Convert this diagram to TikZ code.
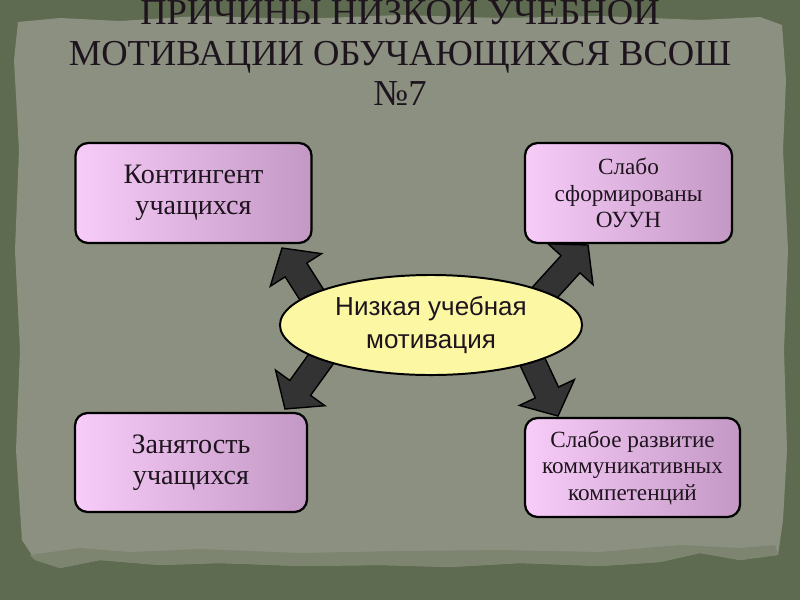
\documentclass[tikz,border=0pt]{standalone}
\usepackage{fontspec}
\setmainfont{Liberation Serif}
\newfontfamily\ellfont{Liberation Sans}
\usetikzlibrary{calc,shapes.geometric}
\definecolor{outerbg}{HTML}{5F6B50}
\definecolor{paper}{HTML}{8B9081}
\definecolor{paperedge}{HTML}{7D8571}
\definecolor{boxl}{HTML}{F8CCF8}
\definecolor{boxr}{HTML}{C498C4}
\definecolor{ellfill}{HTML}{FCF7A2}
\definecolor{arrfill}{HTML}{333333}
\definecolor{txt}{HTML}{1E141E}
\tikzset{
  causebox/.style={draw=black, line width=1.6pt, rounded corners=9pt, left color=boxl, right color=boxr, inner sep=0pt},
  boxtext/.style={text=txt, align=center, font=\fontsize{20pt}{22pt}\selectfont},
  smalltext/.style={text=txt, align=center, font=\fontsize{16.5pt}{18.8pt}\selectfont},
  titletext/.style={text=txt, anchor=base, font=\fontsize{26pt}{29pt}\selectfont},
  blockarrow/.style={draw=black, line width=1pt, fill=arrfill, line join=miter},
}
\newcommand\blockarr[2]{%
  \coordinate (#2b) at ($(#2)!0.65cm!(#1)$);
  \draw[blockarrow] ($(#1)!0.32cm!90:(#2)$) -- ($(#2b)!0.32cm!90:(#2)$) -- ($(#2b)!0.76cm!90:(#2)$)
    -- (#2) -- ($(#2b)!0.76cm!-90:(#2)$) -- ($(#2b)!0.32cm!-90:(#2)$) -- ($(#1)!0.32cm!-90:(#2)$) -- cycle;
}
\begin{document}
\begin{tikzpicture}[x=0.025cm,y=-0.025cm]
\useasboundingbox (0,0) rectangle (800,600);
\fill[outerbg] (0,0) rectangle (800,600);
\fill[paper] (18,22) -- (60,18) -- (120,21) -- (200,16) -- (300,19) -- (400,15) -- (500,18) -- (600,16) -- (700,20) -- (760,17) -- (782,25) -- (786,80) -- (783,150) -- (788,250) -- (784,350) -- (787,450) -- (783,520) -- (778,555) -- (740,560) -- (700,553) -- (660,562) -- (600,566) -- (520,563) -- (450,567) -- (380,565) -- (300,566) -- (220,563) -- (160,565) -- (100,560) -- (60,568) -- (35,560) -- (22,540) -- (16,450) -- (20,350) -- (15,250) -- (19,150) -- (14,60) -- cycle;
\fill[paperedge] (30,555) -- (80,548) -- (130,552) -- (200,549) -- (300,553) -- (400,551) -- (500,550) -- (600,552) -- (680,545) -- (740,548) -- (775,545) -- (778,555) -- (740,560) -- (700,553) -- (660,562) -- (600,566) -- (520,563) -- (450,567) -- (380,565) -- (300,566) -- (220,563) -- (160,565) -- (100,560) -- (60,568) -- (35,560) -- cycle;

% title
\node[titletext] (title1) at (400,24) {ПРИЧИНЫ НИЗКОЙ УЧЕБНОЙ};
\node[titletext] (title2) at (400,65) {МОТИВАЦИИ ОБУЧАЮЩИХСЯ ВСОШ};
\node[titletext] (title3) at (400,105) {№7};

% arrows (behind ellipse)
\coordinate (s1) at (352,358); \coordinate (t1) at (282,248);
\coordinate (s2) at (488,355); \coordinate (t2) at (588,245);
\coordinate (s3) at (365,298); \coordinate (t3) at (285,409);
\coordinate (s4) at (502,297); \coordinate (t4) at (558,416);
\blockarr{s1}{t1}
\blockarr{s2}{t2}
\blockarr{s3}{t3}
\blockarr{s4}{t4}

% center ellipse
\node[ellipse, draw=black, line width=1.4pt, fill=ellfill, inner sep=0pt,
  minimum width=7.55cm, minimum height=2.5cm, text=txt, align=center,
  font=\ellfont\fontsize{18.5pt}{23.5pt}\selectfont] (center) at (431,325) {Низкая учебная\\мотивация};

% boxes
\node[causebox, minimum width=5.9cm, minimum height=2.5cm] (tl) at (193.5,193) {};
\node[boxtext] at (tl.center) {Контингент\\учащихся};
\node[causebox, minimum width=5.175cm, minimum height=2.5cm] (tr) at (628.5,193) {};
\node[smalltext] at (tr.center) {Слабо\\сформированы\\ОУУН};
\node[causebox, minimum width=5.8cm, minimum height=2.475cm] (bl) at (191,462.5) {};
\node[boxtext] at (bl.center) {Занятость\\учащихся};
\node[causebox, minimum width=5.375cm, minimum height=2.475cm] (br) at (632.5,467.5) {};
\node[smalltext] at (br.center) {Слабое развитие\\коммуникативных\\компетенций};
\end{tikzpicture}
\end{document}
